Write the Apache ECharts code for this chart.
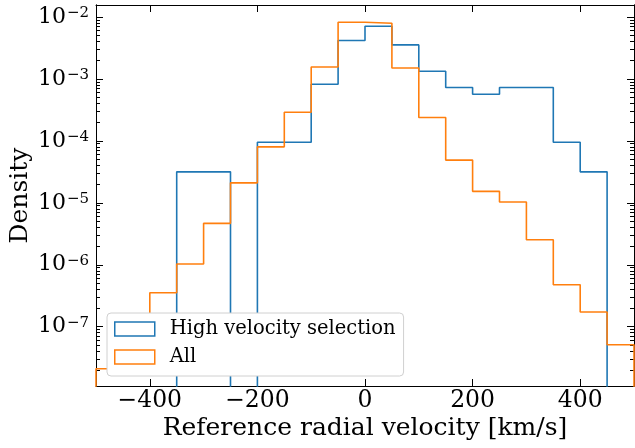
<!DOCTYPE html>
<html>
<head>
<meta charset="utf-8">
<script src="https://cdn.jsdelivr.net/npm/echarts@6/dist/echarts.min.js"></script>
<style>
  html, body { margin: 0; padding: 0; background: #fff; }
  #chart { width: 635px; height: 448px; }
</style>
</head>
<body>
<div id="chart"></div>
<script>
// Histogram bin edges, km/s
const binEdges = [-500, -450, -400, -350, -300, -250, -200, -150, -100, -50, 0,
                  50, 100, 150, 200, 250, 300, 350, 400, 450, 500];

// Normalised density in each bin (0 = empty bin)
const highVelocityDensity = [0, 0, 0, 3.16e-5, 3.16e-5, 0, 9.5e-5, 9.5e-5, 8.2e-4, 4.16e-3,
                             7.08e-3, 3.54e-3, 1.33e-3, 7.26e-4, 5.66e-4, 7.26e-4, 7.26e-4, 9.5e-5, 3.16e-5, 0];
const allDensity = [2.1e-8, 2.1e-8, 3.53e-7, 1.03e-6, 4.66e-6, 2.1e-5, 8.0e-5, 2.9e-4, 1.56e-3, 8.2e-3,
                    7.9e-3, 1.5e-3, 2.38e-4, 4.89e-5, 1.53e-5, 1.03e-5, 2.53e-6, 4.75e-7, 1.73e-7, 5.1e-8];

const seriesNames = ['High velocity selection', 'All'];
const seriesColors = ['#1f77b4', '#ff7f0e'];
const xTickValues = [-400, -200, 0, 200, 400];
const yDecadeExponents = [-7, -6, -5, -4, -3, -2];

const FONT = 'DejaVu Serif';
const log10 = Math.log10;

// Log-space extent of the positive densities, padded by 5% on each side
const positiveLogs = highVelocityDensity.concat(allDensity).filter(v => v > 0).map(log10);
const logLo = Math.min(...positiveLogs);
const logHi = Math.max(...positiveLogs);
const logPad = 0.05 * (logHi - logLo);
const yMin = logLo - logPad;
const yMax = logHi + logPad;
// Empty bins sit below the axis and are clipped by the grid
const EMPTY = yMin - 3;

// Outline of a step histogram: up from the baseline, across each bin, back down
function stepOutline(values) {
  const pts = [[binEdges[0], EMPTY]];
  values.forEach((v, i) => {
    const y = v > 0 ? log10(v) : EMPTY;
    pts.push([binEdges[i], y], [binEdges[i + 1], y]);
  });
  pts.push([binEdges[binEdges.length - 1], EMPTY]);
  return pts;
}

// Minor ticks at 2..9 times each decade
const yMinorTicks = [];
for (let d = Math.floor(yMin); d < Math.ceil(yMax); d++) {
  for (let k = 2; k <= 9; k++) {
    const v = d + log10(k);
    if (v > yMin && v < yMax) yMinorTicks.push(v);
  }
}
const yMajorTicks = yDecadeExponents.slice();

const minus = n => (n < 0 ? '\u2212' + Math.abs(n) : String(n));

const axisLine = { show: true, onZero: false, lineStyle: { color: '#000', width: 1 } };

function yAxisDef(position, ticks, len, withLabels) {
  const def = {
    type: 'value', position, min: yMin, max: yMax,
    axisLine,
    axisTick: { show: true, inside: true, length: len, customValues: ticks,
                lineStyle: { color: '#000', width: 1 } },
    axisLabel: { show: false },
    splitLine: { show: false }
  };
  if (withLabels) {
    def.axisLabel = {
      show: true, customValues: yMajorTicks, margin: 7,
      formatter: v => '{b|10}{s|' + minus(Math.round(v)) + '}',
      rich: {
        b: { fontFamily: FONT, fontSize: 22, color: '#000' },
        s: { fontFamily: FONT, fontSize: 15, color: '#000', verticalAlign: 'top', padding: [0, 0, 6, 1] }
      }
    };
    def.name = 'Density';
    def.nameLocation = 'middle';
    def.nameGap = 63;
    def.nameMoveOverlap = false;
    def.nameTextStyle = { fontFamily: FONT, fontSize: 25, color: '#000' };
  }
  return def;
}

const chart = echarts.init(document.getElementById('chart'), null, { renderer: 'canvas' });

chart.setOption({
  animation: false,
  backgroundColor: '#fff',
  grid: { left: 96, right: 1, top: 5, bottom: 62, containLabel: false, outerBoundsMode: 'none' },
  xAxis: [
    {
      type: 'value', position: 'bottom', min: -500, max: 500,
      axisLine,
      axisTick: { show: true, inside: true, length: 7, customValues: xTickValues,
                  lineStyle: { color: '#000', width: 1 } },
      axisLabel: { customValues: xTickValues, formatter: v => minus(v), margin: 3,
                   fontFamily: FONT, fontSize: 23.5, color: '#000' },
      splitLine: { show: false },
      name: 'Reference radial velocity [km/s]', nameLocation: 'middle', nameGap: 30,
      nameMoveOverlap: false,
      nameTextStyle: { fontFamily: FONT, fontSize: 25, color: '#000' }
    },
    {
      type: 'value', position: 'top', min: -500, max: 500,
      axisLine,
      axisTick: { show: true, inside: true, length: 7, customValues: xTickValues,
                  lineStyle: { color: '#000', width: 1 } },
      axisLabel: { show: false },
      splitLine: { show: false }
    }
  ],
  yAxis: [
    yAxisDef('left', yMajorTicks, 7, true),
    yAxisDef('left', yMinorTicks, 4, false),
    yAxisDef('right', yMajorTicks, 7, false),
    yAxisDef('right', yMinorTicks, 4, false)
  ],
  legend: {
    orient: 'vertical', left: 107, top: 313,
    data: seriesNames.map((n, i) => ({
      name: n, icon: 'rect',
      itemStyle: { color: 'rgba(0,0,0,0)', borderColor: seriesColors[i], borderWidth: 1.5 }
    })),
    itemWidth: 40, itemHeight: 14, itemGap: 6,
    backgroundColor: '#fff', borderColor: '#d0d0d0', borderWidth: 1, borderRadius: 4,
    padding: [5, 8, 8, 7],
    textStyle: { fontFamily: FONT, fontSize: 19.5, color: '#000', padding: [0, 0, 0, 10], lineHeight: 22 },
    selectedMode: false, z: 10
  },
  series: [highVelocityDensity, allDensity].map((vals, i) => ({
    name: seriesNames[i], type: 'line', data: stepOutline(vals),
    xAxisIndex: 0, yAxisIndex: 0,
    showSymbol: false, symbol: 'none', clip: true,
    color: seriesColors[i],
    lineStyle: { color: seriesColors[i], width: 1.6 },
    emphasis: { disabled: true }
  }))
});
</script>
</body>
</html>
